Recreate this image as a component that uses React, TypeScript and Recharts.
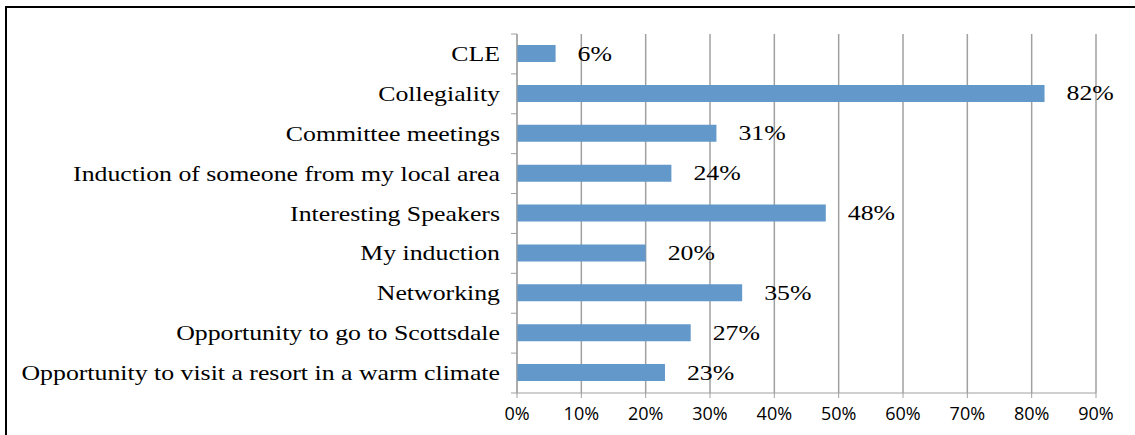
import { BarChart, Bar, XAxis, YAxis, CartesianGrid, LabelList } from 'recharts';

const categories = [
    'CLE',
    'Collegiality',
    'Committee meetings',
    'Induction of someone from my local area',
    'Interesting Speakers',
    'My induction',
    'Networking',
    'Opportunity to go to Scottsdale',
    'Opportunity to visit a resort in a warm climate',
];
const percents = [6, 82, 31, 24, 48, 20, 35, 27, 23];
const xTicks = [0, 10, 20, 30, 40, 50, 60, 70, 80, 90];

const data = categories.map((name, i) => ({ name, value: percents[i] }));

const serif = '"Liberation Serif", "Times New Roman", serif';
const stretch = 1.29;

function CategoryTick(props: any) {
    const { x, y, payload, index } = props;
    const half = payload.offset || 19.95;
    const ax = x + 17;
    return (
        <g>
            <line x1={ax - 6} y1={y - half} x2={ax} y2={y - half} stroke="#a0a0a0" />
            {index === categories.length - 1 && (
                <line x1={ax - 6} y1={y + half} x2={ax} y2={y + half} stroke="#a0a0a0" />
            )}
            <g transform={`translate(${x},${y}) scale(${stretch},1)`}>
                <text x={0} y={0} dy="0.35em" textAnchor="end" fontFamily={serif} fontSize={20} fill="#000">
                    {payload.value}
                </text>
            </g>
        </g>
    );
}

function ValueLabel(props: any) {
    const { x, y, width, height, value } = props;
    return (
        <g transform={`translate(${x + width + 22},${y + height / 2}) scale(${stretch},1)`}>
            <text x={0} y={0} dy="0.35em" fontFamily={serif} fontSize={20} fill="#000">
                {`${value}%`}
            </text>
        </g>
    );
}

export default function App() {
    return (
        <div style={{ position: 'fixed', left: 0, top: 0, width: 1135, height: 435, overflow: 'hidden', background: '#fff' }}>
            <div style={{ position: 'absolute', left: 5, top: 6, width: 1300, height: 600, border: '2px solid #000' }} />
            <div style={{ position: 'absolute', left: 0, top: 0 }}>
                <BarChart
                    width={1135}
                    height={435}
                    data={data}
                    layout="vertical"
                    barCategoryGap={0}
                    margin={{ top: 34, right: 39, left: 0, bottom: 0 }}
                >
                    <CartesianGrid horizontal={false} stroke="#a0a0a0" strokeWidth={1.5} />
                    <XAxis
                        type="number"
                        domain={[0, 90]}
                        ticks={xTicks}
                        interval={0}
                        height={42}
                        tickFormatter={(v: number) => `${v}%`}
                        tick={{ fontSize: 18, fill: '#000', fontFamily: '"Open Sans", sans-serif' }}
                        stroke="#a0a0a0"
                        tickSize={5}
                        tickMargin={9}
                    />
                    <YAxis
                        type="category"
                        dataKey="name"
                        width={517}
                        tick={<CategoryTick />}
                        tickLine={false}
                        tickSize={0}
                        tickMargin={17}
                        interval={0}
                        stroke="#a0a0a0"
                    />
                    <Bar dataKey="value" fill="#6398cb" barSize={17} isAnimationActive={false}>
                        <LabelList dataKey="value" content={<ValueLabel />} />
                    </Bar>
                </BarChart>
            </div>
        </div>
    );
}
